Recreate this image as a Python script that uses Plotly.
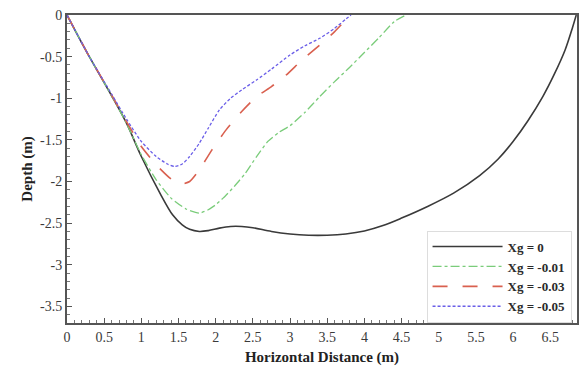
import plotly.graph_objects as go

# Data
x_xg0 = [0, 0.13, 0.3, 0.6, 0.8, 1.0, 1.25, 1.42, 1.55, 1.65, 1.78, 1.9, 2.05, 2.2, 2.35, 2.5, 2.75,
         3.0, 3.25, 3.5, 3.75, 4.0, 4.25, 4.5, 4.85, 5.2, 5.55, 5.8, 6.0, 6.2, 6.4, 6.55, 6.7, 6.8, 6.85]
y_xg0 = [0, -0.22, -0.5, -0.97, -1.3, -1.7, -2.14, -2.4, -2.52, -2.575, -2.6, -2.59, -2.56, -2.54,
         -2.54, -2.555, -2.6, -2.63, -2.645, -2.645, -2.63, -2.595, -2.53, -2.44, -2.3, -2.14, -1.93,
         -1.73, -1.52, -1.27, -0.98, -0.72, -0.42, -0.15, 0]

x_xg001 = [0, 0.3, 0.6, 0.8, 1.0, 1.2, 1.4, 1.6, 1.78, 1.9, 2.0, 2.1, 2.25, 2.4, 2.55, 2.7, 2.85,
           3.0, 3.2, 3.4, 3.6, 3.8, 4.0, 4.2, 4.4, 4.56]
y_xg001 = [0, -0.5, -0.97, -1.3, -1.68, -1.98, -2.2, -2.33, -2.38, -2.34, -2.28, -2.2, -2.06,
           -1.9, -1.7, -1.52, -1.41, -1.33, -1.17, -0.98, -0.8, -0.63, -0.45, -0.27, -0.08, 0]

x_xg003 = [0, 0.3, 0.6, 0.8, 1.0, 1.2, 1.4, 1.54, 1.65, 1.78, 1.95, 2.14, 2.35, 2.55, 2.75, 2.95,
           3.15, 3.4, 3.6, 3.75, 3.82]
y_xg003 = [0, -0.5, -0.96, -1.28, -1.58, -1.8, -1.97, -2.03, -2.0, -1.86, -1.62, -1.38, -1.16,
           -0.98, -0.86, -0.72, -0.55, -0.36, -0.2, -0.06, 0]

x_xg005 = [0, 0.3, 0.6, 0.8, 1.0, 1.2, 1.35, 1.45, 1.55, 1.65, 1.78, 1.9, 2.05, 2.2, 2.35, 2.55,
           2.75, 3.0, 3.2, 3.4, 3.6, 3.75, 3.82]
y_xg005 = [0, -0.5, -0.95, -1.25, -1.52, -1.7, -1.79, -1.82, -1.79, -1.7, -1.54, -1.36, -1.14,
           -1.0, -0.9, -0.78, -0.65, -0.48, -0.37, -0.28, -0.16, -0.05, 0]

x_ticks = [0, 0.5, 1, 1.5, 2, 2.5, 3, 3.5, 4, 4.5, 5, 5.5, 6, 6.5]
x_ticklabels = ["0", "0.5", "1", "1.5", "2", "2.5", "3", "3.5", "4", "4.5", "5", "5.5", "6", "6.5"]
y_ticks = [0, -0.5, -1, -1.5, -2, -2.5, -3, -3.5]
y_ticklabels = ["0", "-0.5", "-1", "-1.5", "-2", "-2.5", "-3", "-3.5"]

FONT = "'Liberation Serif', 'Times New Roman', serif"

fig = go.Figure()
fig.add_trace(go.Scatter(x=x_xg0, y=y_xg0, mode="lines", name="<b>Xg = 0</b>",
                         line=dict(color="#3a3a3a", width=1.6, shape="spline", smoothing=0.9)))
fig.add_trace(go.Scatter(x=x_xg001, y=y_xg001, mode="lines", name="<b>Xg = -0.01</b>",
                         line=dict(color="#7acc7a", width=1.3, dash="dashdot", shape="spline", smoothing=0.5)))
fig.add_trace(go.Scatter(x=x_xg003, y=y_xg003, mode="lines", name="<b>Xg = -0.03</b>",
                         line=dict(color="#d9604f", width=1.6, dash="longdash", shape="spline", smoothing=0.5)))
fig.add_trace(go.Scatter(x=x_xg005, y=y_xg005, mode="lines", name="<b>Xg = -0.05</b>",
                         line=dict(color="#6a5ee8", width=1.3, dash="3px,2px", shape="spline", smoothing=0.6)))

axis_common = dict(
    showline=True, linecolor="#555555", linewidth=2, mirror=True,
    ticks="inside", ticklen=5, tickwidth=1.3, tickcolor="#555555",
    showgrid=False, zeroline=False,
    tickfont=dict(family=FONT, size=14, color="#3a3a3a"),
)

fig.update_xaxes(range=[0, 6.86], tickvals=x_ticks, ticktext=x_ticklabels,
                 minor=dict(ticks="inside", ticklen=3, dtick=0.1, tickcolor="#777777", showgrid=False),
                 title=dict(text="<b>Horizontal Distance (m)</b>",
                            font=dict(family=FONT, size=15, color="#222222"), standoff=8),
                 **axis_common)
fig.update_yaxes(range=[-3.7, 0], tickvals=y_ticks, ticktext=y_ticklabels,
                 minor=dict(ticks="inside", ticklen=3, dtick=0.1, tickcolor="#777777", showgrid=False),
                 title=dict(text="<b>Depth (m)</b>",
                            font=dict(family=FONT, size=15, color="#222222"), standoff=4),
                 **axis_common)

fig.update_layout(
    width=582, height=369,
    margin=dict(l=67, r=3, t=15, b=46),
    paper_bgcolor="white", plot_bgcolor="white",
    showlegend=True,
    legend=dict(x=0.705, y=0.30, xanchor="left", yanchor="top",
                bgcolor="white", bordercolor="#dddddd", borderwidth=1,
                font=dict(family=FONT, size=13, color="#2a2a2a"),
                itemwidth=70, tracegroupgap=0),
)

fig.write_html("out.html")
